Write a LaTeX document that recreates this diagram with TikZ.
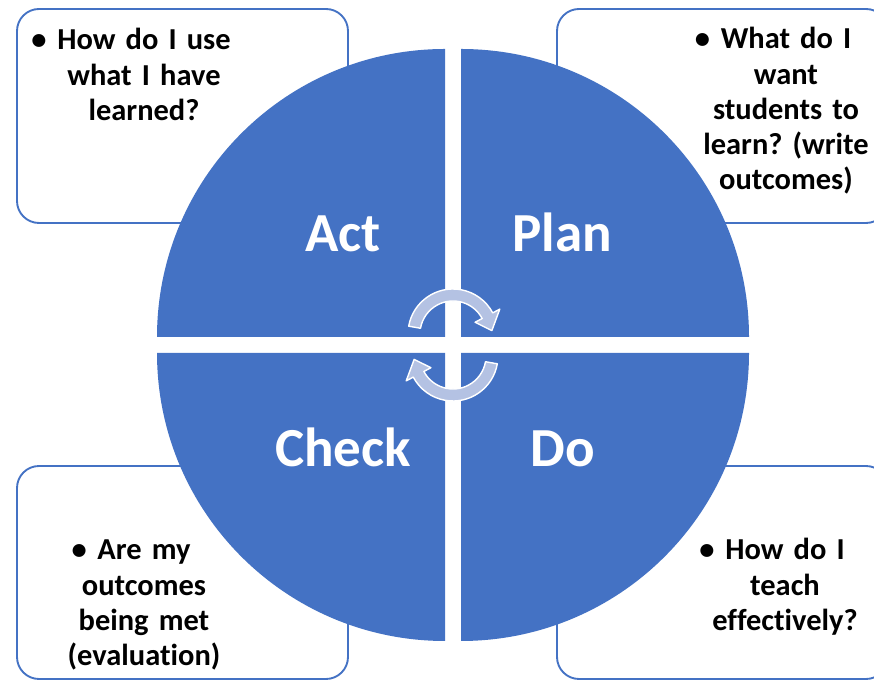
\documentclass[tikz,border=0pt]{standalone}
\usepackage{fontspec}
\setmainfont{Carlito}[Ligatures=NoCommon]
\usepackage{tikz}
\frenchspacing

\definecolor{pdcablue}{RGB}{68,114,196}
\definecolor{arrowfill}{RGB}{180,194,227}

\newcommand{\notefont}{\fontsize{26}{29.9}\selectfont\bfseries}
\newcommand{\quadfont}{\fontsize{47}{52}\selectfont\bfseries}
\newcommand{\notebullet}{\llap{\textbullet\hspace{0.35em}}}

\tikzset{
    notebox/.style={draw=pdcablue, line width=1.6pt, rounded corners=0.66cm, fill=white},
    notetext/.style={font=\notefont, text width=7cm, align=center, inner sep=0pt, anchor=base},
    quad/.style={fill=pdcablue},
    quadlabel/.style={font=\quadfont, text=white, inner sep=0pt, anchor=base},
    cyclearrow/.style={fill=arrowfill, draw=white, line width=1.2pt, line join=round}
}

\begin{document}
\begin{tikzpicture}[x=0.03cm, y=0.03cm]
    \useasboundingbox (0,0) rectangle (874,680);
    \clip (0,0) rectangle (874,680);

    % boxes behind the circle
    \draw[notebox] (17,457) rectangle (348,671);
    \draw[notebox] (557,457) rectangle (888,671);
    \draw[notebox] (17,1) rectangle (348,214);
    \draw[notebox] (557,1) rectangle (888,214);

    \node[notetext] (actnote) at (144,630) {\notebullet How do I use\\ what I have\\ learned?};
    \node[notetext] (plannote) at (786,631) {\notebullet What do I\\ want\\ students to\\ learn? (write\\ outcomes)};
    \node[notetext] (checknote) at (144,120) {\notebullet Are my\\ outcomes\\ being met\\ (evaluation)};
    \node[notetext] (donote) at (785,120) {\notebullet How do I\\ teach\\ effectively?};

    % the four quarters
    \fill[quad] (445,343) -- (157,343) arc[start angle=180, end angle=90, radius=288] -- cycle;
    \fill[quad] (461,343) -- (461,631) arc[start angle=90, end angle=0, radius=288] -- cycle;
    \fill[quad] (445,327) -- (445,39) arc[start angle=270, end angle=180, radius=288] -- cycle;
    \fill[quad] (461,327) -- (749,327) arc[start angle=0, end angle=-90, radius=288] -- cycle;

    \node[quadlabel] (act) at (343,428) {Act};
    \node[quadlabel] (plan) at (562,428) {Plan};
    \node[quadlabel] (check) at (343,213) {Check};
    \node[quadlabel] (do) at (563,213) {Do};

    % arrows in the middle
    \begin{scope}[shift={(453,346)}]
        \draw[cyclearrow] (170:45) arc[start angle=170, end angle=28, radius=45] -- (28:53) -- (5:39)
            -- (28:25) -- (28:33) arc[start angle=28, end angle=170, radius=33] -- cycle;
    \end{scope}
    \begin{scope}[shift={(453,324)}]
        \draw[cyclearrow] (350:45) arc[start angle=350, end angle=208, radius=45] -- (208:53) -- (185:39)
            -- (208:25) -- (208:33) arc[start angle=208, end angle=350, radius=33] -- cycle;
    \end{scope}
\end{tikzpicture}
\end{document}
